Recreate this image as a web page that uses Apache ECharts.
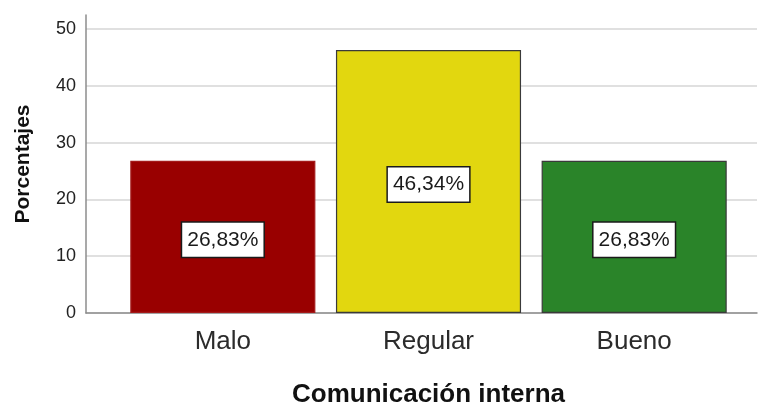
<!DOCTYPE html>
<html>
<head>
<meta charset="utf-8">
<script src="https://cdn.jsdelivr.net/npm/echarts@6/dist/echarts.min.js"></script>
<style>
  html, body { margin: 0; padding: 0; background: #fff; }
  #chart { width: 760px; height: 406px; }
</style>
</head>
<body>
<div id="chart"></div>
<script>
// Distribution of "Comunicación interna" ratings, in percent
const categories = ['Malo', 'Regular', 'Bueno'];
const percentages = [26.83, 46.34, 26.83];
const yTicks = [0, 10, 20, 30, 40, 50];

const barColors = ['#990000', '#e2d70f', '#2a8429'];
const barBorders = ['#a31a1a', '#3a3a3a', '#3a3a3a'];
const FONT = '"Liberation Sans", Arial, sans-serif';
const Y_MAX = 52.5;

const chart = echarts.init(document.getElementById('chart'), null, { renderer: 'canvas' });

chart.setOption({
  backgroundColor: '#ffffff',
  animation: false,
  grid: [
    // frame: value axis, gridlines and baseline
    { left: 86, right: 3, top: 15, bottom: 93, containLabel: false, outerBoundsMode: 'none' },
    // bars sit in a slightly inset band
    { left: 120, right: 23, top: 15, bottom: 93, containLabel: false, outerBoundsMode: 'none' }
  ],
  xAxis: [
    {
      gridIndex: 0, type: 'value', min: 0, max: 1,
      axisLine: { show: true, lineStyle: { color: '#8c8c8c', width: 1.5 } },
      axisTick: { show: false }, axisLabel: { show: false }, splitLine: { show: false }
    },
    {
      gridIndex: 1, type: 'category', data: categories,
      axisLine: { show: false }, axisTick: { show: false },
      axisLabel: { margin: 16, fontFamily: FONT, fontSize: 26, color: '#2b2b2b' },
      name: 'Comunicación interna', nameLocation: 'middle', nameGap: 69,
      nameTextStyle: { fontFamily: FONT, fontSize: 26, fontWeight: 'bold', color: '#111' }
    }
  ],
  yAxis: [
    {
      gridIndex: 0, type: 'value', min: 0, max: Y_MAX, interval: 10,
      axisLine: { show: true, lineStyle: { color: '#8c8c8c', width: 1.5 } },
      axisTick: { show: false },
      axisLabel: {
        margin: 10, fontFamily: FONT, fontSize: 18, color: '#222', showMaxLabel: false,
        formatter: v => (yTicks.indexOf(v) >= 0 ? String(v) : '')
      },
      splitLine: { show: true, showMaxLine: false, lineStyle: { color: '#d6d6d6', width: 1.5 } },
      name: 'Porcentajes', nameLocation: 'middle', nameGap: 52, nameRotate: 90,
      nameTextStyle: { fontFamily: FONT, fontSize: 21, fontWeight: 'bold', color: '#111' }
    },
    {
      gridIndex: 1, type: 'value', min: 0, max: Y_MAX, show: false,
      splitLine: { show: false }
    }
  ],
  series: [{
    type: 'bar',
    xAxisIndex: 1, yAxisIndex: 1,
    barWidth: '90%',
    data: percentages.map((v, i) => ({
      value: v,
      itemStyle: { color: barColors[i], borderColor: barBorders[i], borderWidth: 1.2 }
    })),
    label: {
      show: true, position: 'inside', offset: [0, 3],
      formatter: p => p.value.toFixed(2).replace('.', ',') + '%',
      fontFamily: FONT, fontSize: 21, color: '#1a1a1a',
      backgroundColor: '#ffffff', borderColor: '#1a1a1a', borderWidth: 1.5,
      padding: [7, 5, 5, 5], lineHeight: 22
    }
  }]
});
</script>
</body>
</html>
